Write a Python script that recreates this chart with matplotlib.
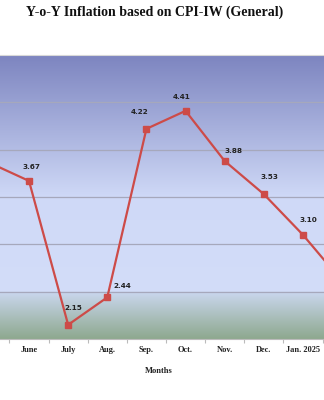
import numpy as np
import matplotlib
matplotlib.use("Agg")
import matplotlib.pyplot as plt
from matplotlib.colors import LinearSegmentedColormap

# Y-o-Y inflation, CPI-IW (General), May 2024 - Feb 2025
months = ["May", "June", "July", "Aug.", "Sep.", "Oct.", "Nov.", "Dec.", "Jan. 2025", "Feb."]
inflation = [3.86, 3.67, 2.15, 2.44, 4.22, 4.41, 3.88, 3.53, 3.10, 2.61]

# label offsets (points) relative to each marker
label_dx = [0, 2, 4, 11, -5, -3, 6, 4, 4, 4]
label_dy = [10, 10, 12, 8, 12, 10, 7, 12, 11, 10]

fig = plt.figure(figsize=(3.24, 4.0), dpi=100)
# plot area runs past both figure edges, so only June..Jan. is fully visible
ax = fig.add_axes([-0.0917, 0.1525, 1.208, 0.71])

x = np.arange(len(months))
ax.set_xlim(-0.5, len(months) - 0.5)
ax.set_ylim(2.0, 5.0)

# chart-area gradient: green band at the bottom, lavender to purple above
bg = LinearSegmentedColormap.from_list("bg", [
    (0.0, "#8ea98f"),
    (0.164, "#cad7ee"),
    (0.168, "#d3ddf9"),
    (0.50, "#cfd9f7"),
    (1.0, "#7d85c0"),
])
grad = np.linspace(0, 1, 512).reshape(-1, 1)
ax.imshow(grad, cmap=bg, aspect="auto", origin="lower",
          extent=(0, 1, 0, 1), transform=ax.transAxes, zorder=0)

for yv in np.arange(2.5, 5.0, 0.5):
    ax.axhline(yv, color="#a6a8bc", lw=0.9, zorder=1)

ax.plot(x, inflation, color="#cd4b48", lw=1.6, marker="s", ms=4.5,
        markeredgecolor="#cd4b48", zorder=3)

# first and last months fall outside the visible area, so they stay unlabelled
shown = slice(1, len(months) - 1)
for xi, v, dx, dy in zip(x[shown], inflation[shown], label_dx[shown], label_dy[shown]):
    ax.annotate(f"{v:.2f}", (xi, v), xytext=(dx, dy), textcoords="offset points",
                ha="center", va="center", fontsize=5.2, fontweight="bold",
                color="#222222", family="DejaVu Sans", zorder=4)

# category tick marks sit between months
ax.set_xticks(x[:-1] + 0.5)
ax.set_xticklabels([])
ax.set_xticks(x[shown], minor=True)
ax.set_xticklabels(months[shown], minor=True, fontsize=6, fontweight="bold",
                   family="Liberation Serif", color="#222222")
ax.tick_params(axis="x", which="major", length=3, color="#bbbbbb")
ax.tick_params(axis="x", which="minor", length=0, pad=5)
ax.set_yticks([])

for side in ["left", "right"]:
    ax.spines[side].set_visible(False)
ax.spines["top"].set_color("#d8d8d8")
ax.spines["bottom"].set_color("#bbbbbb")

fig.text(0.478, 0.97, "Y-o-Y Inflation based on CPI-IW (General)",
         ha="center", va="center", fontsize=10, fontweight="bold",
         family="Liberation Serif", color="#111111")
fig.text(0.49, 0.073, "Months", ha="center", va="center", fontsize=6,
         fontweight="bold", family="Liberation Serif", color="#222222")

fig.savefig("out.png", dpi=100)
